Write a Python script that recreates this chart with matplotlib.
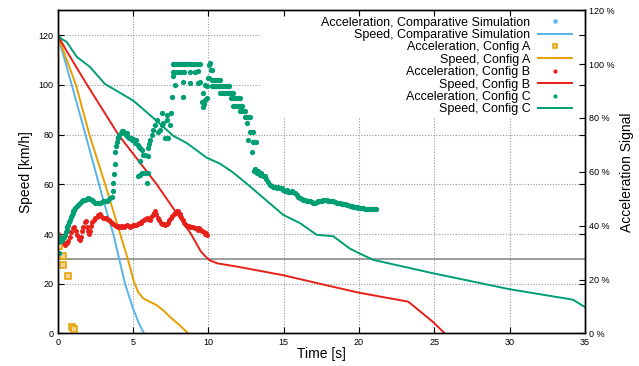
import numpy as np
import matplotlib.pyplot as plt
from matplotlib.patches import Rectangle

plt.rcParams['font.family'] = ['Liberation Sans', 'DejaVu Sans']

# speed curves [km/h] over time [s]
comp_t = [0, 1.0, 2.0, 2.74, 3.2, 3.69, 4.1, 4.47, 5.0, 5.4, 5.73]
comp_v = [120, 98.5, 76.5, 60, 50, 40, 29.5, 20, 10, 4, 0]

a_t = [0, 0.6, 1.21, 2.1, 3.15, 4.15, 4.65, 5.05, 5.35, 5.68, 6.1, 6.57, 7.0, 7.45, 8.1, 8.67]
a_v = [120, 110, 100, 80, 60, 40, 30, 21, 16.5, 14.1, 12.8, 11.4, 9.3, 6.7, 3.3, 0]

b_t = [0, 0.6, 1.95, 4.02, 6.57, 8.85, 9.5, 9.89, 10.1, 10.6, 12.0, 15.0, 17.4, 20.0, 23.27, 24.9, 25.7]
b_v = [120, 113.5, 100, 80, 60, 40, 33, 30.5, 29.4, 28.2, 26.8, 23.4, 20, 16.4, 12.8, 4.7, 0]

c_t = [0, 0.27, 0.59, 1.26, 2.14, 3.14, 3.91, 5.02, 6.57, 7.67, 8.56, 9.89, 10.77, 11.65, 12.54,
       14.97, 16.08, 17.19, 18.29, 19.4, 20.0, 20.95, 24.93, 30.0, 34.2, 35.0]
c_v = [120, 118.4, 117.3, 111.3, 107.2, 100.3, 97.6, 93.6, 85.5, 79.5, 76.6, 70.7, 68.3, 64.7, 60.3,
       47.7, 44.4, 39.7, 39.1, 34.1, 32.3, 29.6, 24.2, 17.8, 13.6, 10.6]

# acceleration signal [%]
acc_comp = [(0.0, 34.5), (0.05, 35.0)]

acc_a = [(0.02, 32.6), (0.08, 32.4), (0.37, 28.8), (0.35, 25.5), (0.66, 21.2), (0.97, 2.4), (1.08, 1.6)]

acc_b = [(0.0, 35.4), (0.05, 37.0), (0.1, 36.5), (0.2, 35.0), (0.3, 34.5), (0.4, 33.5), (0.5, 33.0),
         (0.6, 33.5), (0.7, 34.5), (0.8, 36.0), (0.9, 37.8), (1.0, 39.0), (1.1, 39.5), (1.2, 38.0),
         (1.3, 36.5), (1.4, 35.0), (1.48, 34.8), (1.55, 36.0), (1.62, 38.0), (1.7, 39.5), (1.8, 41.3),
         (1.9, 41.6), (1.95, 39.5), (2.0, 38.0), (2.05, 37.0), (2.14, 38.0), (2.2, 39.8), (2.3, 41.5),
         (2.4, 42.0), (2.5, 43.0), (2.59, 43.4), (2.7, 44.0), (2.81, 44.2), (2.9, 43.5), (3.0, 43.0),
         (3.1, 42.8), (3.2, 42.9), (3.3, 42.5), (3.4, 42.0), (3.5, 41.6), (3.6, 41.0), (3.7, 40.6),
         (3.8, 40.4), (3.9, 39.8), (4.0, 39.7), (4.1, 40.0), (4.2, 39.6), (4.3, 39.9), (4.4, 39.7),
         (4.5, 39.9), (4.6, 40.1), (4.7, 39.8), (4.8, 39.7), (4.9, 40.0), (5.0, 40.2), (5.1, 40.4),
         (5.2, 40.3), (5.3, 40.8), (5.4, 41.1), (5.5, 41.0), (5.6, 41.6), (5.7, 42.0), (5.8, 42.4),
         (5.9, 42.9), (6.0, 42.5), (6.1, 42.2), (6.2, 43.2), (6.3, 44.0), (6.4, 44.8), (6.46, 45.3),
         (6.55, 44.2), (6.65, 43.0), (6.75, 42.0), (6.85, 41.2), (6.95, 40.8), (7.05, 40.5), (7.15, 40.3),
         (7.23, 40.5), (7.3, 41.2), (7.4, 42.0), (7.5, 42.8), (7.6, 43.6), (7.7, 44.3), (7.8, 44.9),
         (7.9, 45.3), (8.0, 45.5), (8.1, 44.5), (8.2, 43.3), (8.3, 42.2), (8.4, 41.0), (8.5, 40.3),
         (8.6, 39.9), (8.7, 39.9), (8.8, 39.7), (8.9, 39.5), (9.0, 39.5), (9.1, 39.0), (9.2, 39.2),
         (9.3, 38.6), (9.4, 39.0), (9.5, 38.4), (9.6, 38.0), (9.7, 37.6), (9.77, 37.0), (9.85, 37.3),
         (9.9, 36.4)]

acc_c = [(0.0, 34.0), (0.03, 36.5), (0.08, 30.0), (0.12, 35.0), (0.2, 34.3), (0.27, 34.8), (0.35, 35.5),
         (0.42, 36.0), (0.48, 36.6), (0.55, 37.6), (0.6, 38.5), (0.65, 39.5), (0.7, 40.3), (0.76, 41.3),
         (0.82, 42.2), (0.88, 43.1), (0.93, 44.0), (0.99, 44.7), (1.04, 45.3), (1.1, 46.0), (1.15, 46.5),
         (1.26, 47.2), (1.37, 47.8), (1.48, 48.4), (1.59, 49.0), (1.7, 49.4), (1.81, 49.6), (1.92, 50.0),
         (2.03, 50.2), (2.14, 50.0), (2.26, 49.6), (2.37, 49.0), (2.48, 48.4), (2.59, 48.5), (2.7, 48.6),
         (2.81, 48.6), (2.92, 48.8), (3.03, 49.0), (3.14, 49.0), (3.25, 49.3), (3.36, 49.6), (3.47, 50.2),
         (3.58, 50.8), (3.64, 53.0), (3.69, 55.8), (3.76, 59.3), (3.78, 63.0), (3.8, 67.2), (3.86, 69.5),
         (3.91, 71.2), (3.97, 72.5), (4.02, 73.1), (4.1, 73.7), (4.18, 74.5), (4.27, 75.0), (4.35, 75.0),
         (4.45, 74.4), (4.52, 73.7), (4.58, 74.5), (4.66, 73.0), (4.75, 72.7), (4.85, 72.7), (4.91, 71.9),
         (5.02, 72.3), (5.13, 70.6), (5.2, 71.9), (5.3, 70.0), (5.4, 69.4), (5.46, 68.8), (5.57, 68.2),
         (5.68, 66.3), (5.79, 66.3), (6.01, 65.7), (5.46, 64.1), (5.35, 58.3), (5.46, 58.9), (5.57, 59.5),
         (5.79, 59.5), (5.9, 55.8), (6.01, 59.5), (6.01, 68.8), (6.08, 70.3), (6.12, 71.9), (6.23, 73.7),
         (6.34, 75.6), (6.46, 77.4), (6.57, 79.3), (6.68, 74.7), (6.79, 75.6), (6.9, 77.4), (6.9, 81.8),
         (7.0, 78.0), (7.12, 72.5), (7.23, 79.3), (7.23, 81.2), (7.34, 72.5), (7.45, 77.4), (7.52, 81.8),
         (7.56, 87.9), (7.67, 95.4), (7.78, 92.3), (8.29, 87.9),
         (7.63, 100), (7.75, 100), (7.87, 100), (7.99, 100), (8.11, 100), (8.23, 100), (8.35, 100),
         (8.47, 100), (8.59, 100), (8.71, 100), (8.83, 100), (8.95, 100), (9.07, 100), (9.19, 100),
         (9.31, 100), (9.44, 100),
         (7.63, 96.9), (7.75, 96.9), (7.87, 96.9), (8.05, 96.9), (8.2, 96.9), (8.4, 96.9), (8.75, 96.9),
         (9.1, 96.9), (8.33, 93.5), (8.78, 93.1), (9.33, 93.1), (9.44, 93.5), (9.29, 97.5),
         (9.55, 86.1), (9.62, 83.9), (9.66, 89.2), (9.7, 85.1), (9.77, 86.7), (9.77, 92.3), (9.89, 87.3),
         (9.89, 92.0), (9.99, 95.0), (10.04, 94.8), (10.06, 99.7), (10.1, 100.3), (10.17, 97.8),
         (10.22, 97.8),
         (10.22, 94.1), (10.34, 94.1), (10.46, 94.1), (10.58, 94.1), (10.7, 94.1), (10.8, 94.1),
         (10.22, 91.7), (10.34, 91.7), (10.46, 91.7), (10.58, 91.7), (10.7, 91.7), (10.82, 91.7),
         (10.94, 91.7), (11.06, 91.7), (11.18, 91.7), (11.3, 91.7), (11.4, 91.7),
         (10.8, 89.2), (10.92, 89.2), (11.04, 89.2), (11.16, 89.2), (11.28, 89.2), (11.4, 89.2),
         (11.52, 89.2), (11.65, 89.2),
         (11.5, 87.3), (11.62, 87.3), (11.74, 87.3), (11.86, 87.3), (11.98, 87.3), (12.1, 87.3),
         (11.65, 84.6), (11.77, 84.6), (11.89, 84.6), (12.01, 84.6), (12.13, 84.6), (12.25, 84.6),
         (12.1, 82.6), (12.22, 82.6), (12.34, 82.6), (12.4, 82.6),
         (12.4, 80.5), (12.52, 80.5), (12.64, 80.5), (12.76, 80.5),
         (12.54, 78.1), (12.76, 74.7), (12.87, 74.7), (12.98, 74.7), (12.65, 71.9), (12.94, 71.0),
         (13.05, 71.0), (13.16, 71.0), (12.91, 67.2),
         (13.05, 60.5), (13.12, 61.0), (13.2, 59.5), (13.3, 60.2), (13.4, 58.9), (13.5, 59.5),
         (13.6, 58.6), (13.76, 58.3), (13.85, 57.3), (13.97, 56.4), (14.09, 55.2), (14.2, 54.8),
         (14.31, 54.5), (14.42, 54.2), (14.53, 53.9), (14.64, 54.2), (14.75, 53.9), (14.86, 53.9),
         (14.97, 53.3), (15.08, 53.0), (15.2, 53.3), (15.3, 52.7), (15.41, 52.7), (15.52, 53.0),
         (15.63, 52.7), (15.75, 52.1), (15.86, 51.5), (15.97, 50.8), (16.08, 50.2), (16.19, 49.9),
         (16.3, 49.6), (16.41, 49.4), (16.52, 49.2), (16.63, 49.0), (16.74, 49.0), (16.85, 48.7),
         (16.96, 48.5), (17.07, 48.4), (17.18, 48.7), (17.29, 49.0), (17.4, 49.0), (17.51, 49.2),
         (17.62, 49.4), (17.73, 49.4), (17.85, 49.4), (17.96, 49.2), (18.07, 49.0), (18.18, 49.2),
         (18.29, 49.0), (18.4, 48.7), (18.51, 48.6), (18.62, 48.5), (18.73, 48.4), (18.84, 48.2),
         (18.95, 48.0), (19.06, 47.9), (19.18, 47.8), (19.29, 47.6), (19.4, 47.4), (19.51, 47.3),
         (19.62, 47.1), (19.73, 47.0), (19.84, 46.8), (19.95, 46.7), (20.06, 46.5), (20.17, 46.4),
         (20.28, 46.4), (20.39, 46.3), (20.5, 46.3), (20.61, 46.3), (20.72, 46.3), (20.83, 46.2),
         (20.94, 46.3), (21.05, 46.3), (21.12, 46.3)]

threshold = 30  # km/h

x_ticks = [0, 5, 10, 15, 20, 25, 30, 35]
y_ticks = [0, 20, 40, 60, 80, 100, 120]
y2_ticks = [0, 20, 40, 60, 80, 100, 120]

col_blue = '#56b4e9'
col_orange = '#e69f00'
col_red = '#e8201a'
col_green = '#009e73'

fig = plt.figure(figsize=(6.39, 3.66), dpi=100)
ax = fig.add_axes([0.0903, 0.0888, 0.8252, 0.8833])
ax2 = ax.twinx()

ax.set_xlim(0, 35)
ax.set_ylim(0, 130)
ax2.set_ylim(0, 120)

# dotted grid drawn by hand so the legend patch can hide part of it
for x in x_ticks[1:-1]:
    ax.axvline(x, color='#999999', lw=0.8, ls=(0, (1, 1.5)), zorder=0.5)
for y in y_ticks[1:]:
    ax.axhline(y, color='#999999', lw=0.8, ls=(0, (1, 1.5)), zorder=0.5)
ax.add_patch(Rectangle((0.384, 0.67), 0.605, 0.312, transform=ax.transAxes,
                       facecolor='white', edgecolor='none', zorder=0.8))

ax.axhline(threshold, color='#8a8a8a', lw=1.2, zorder=1.5)

l_comp, = ax.plot(comp_t, comp_v, color=col_blue, lw=1.4, zorder=2)
l_a, = ax.plot(a_t, a_v, color=col_orange, lw=1.4, zorder=2)
l_b, = ax.plot(b_t, b_v, color=col_red, lw=1.4, zorder=2)
l_c, = ax.plot(c_t, c_v, color=col_green, lw=1.4, zorder=2)

ca = np.array(acc_comp)
aa = np.array(acc_a)
ba = np.array(acc_b)
cc = np.array(acc_c)
p_comp, = ax2.plot(ca[:, 0], ca[:, 1], ls='none', marker='s', ms=3.2, color=col_blue, mec='none')
p_a, = ax2.plot(aa[:, 0], aa[:, 1], ls='none', marker='s', ms=4.2, mfc='#f6d594', mec=col_orange, mew=1.1)
p_b, = ax2.plot(ba[:, 0], ba[:, 1], ls='none', marker='o', ms=3.6, color=col_red, mec='none')
p_c, = ax2.plot(cc[:, 0], cc[:, 1], ls='none', marker='o', ms=3.8, color=col_green, mec='none')

ax.set_xticks(x_ticks)
ax.set_yticks(y_ticks)
ax2.set_yticks(y2_ticks)
ax2.set_yticklabels([f'{v} %' for v in y2_ticks])
ax.tick_params(direction='in', length=4, width=0.8, labelsize=6.5, top=True, right=True, pad=3)
ax2.tick_params(direction='in', length=4, width=0.8, labelsize=6.5, pad=3)
for a in (ax, ax2):
    for s in a.spines.values():
        s.set_linewidth(1.0)

ax.set_xlabel('Time [s]', fontsize=10, labelpad=0.5)
ax.set_ylabel('Speed [km/h]', fontsize=10, labelpad=4)
ax2.set_ylabel('Acceleration Signal', fontsize=10, labelpad=4)

handles = [p_comp, l_comp, p_a, l_a, p_b, l_b, p_c, l_c]
labels = ['Acceleration, Comparative Simulation', 'Speed, Comparative Simulation',
          'Acceleration, Config A', 'Speed, Config A',
          'Acceleration, Config B', 'Speed, Config B',
          'Acceleration, Config C', 'Speed, Config C']
leg = ax2.legend(handles, labels, loc='upper right', bbox_to_anchor=(0.975, 0.98), frameon=False,
                 markerfirst=False, fontsize=9, handlelength=2.7, handletextpad=0.6,
                 labelspacing=0.03, borderpad=0, borderaxespad=0, numpoints=1)
for h in leg.legend_handles:
    if h.get_marker() == 's' and h.get_markerfacecolor() != col_blue:
        h.set_markersize(3.4)
    elif h.get_marker() in ('s', 'o'):
        h.set_markersize(3.0)

fig.savefig('out.png', dpi=100)
